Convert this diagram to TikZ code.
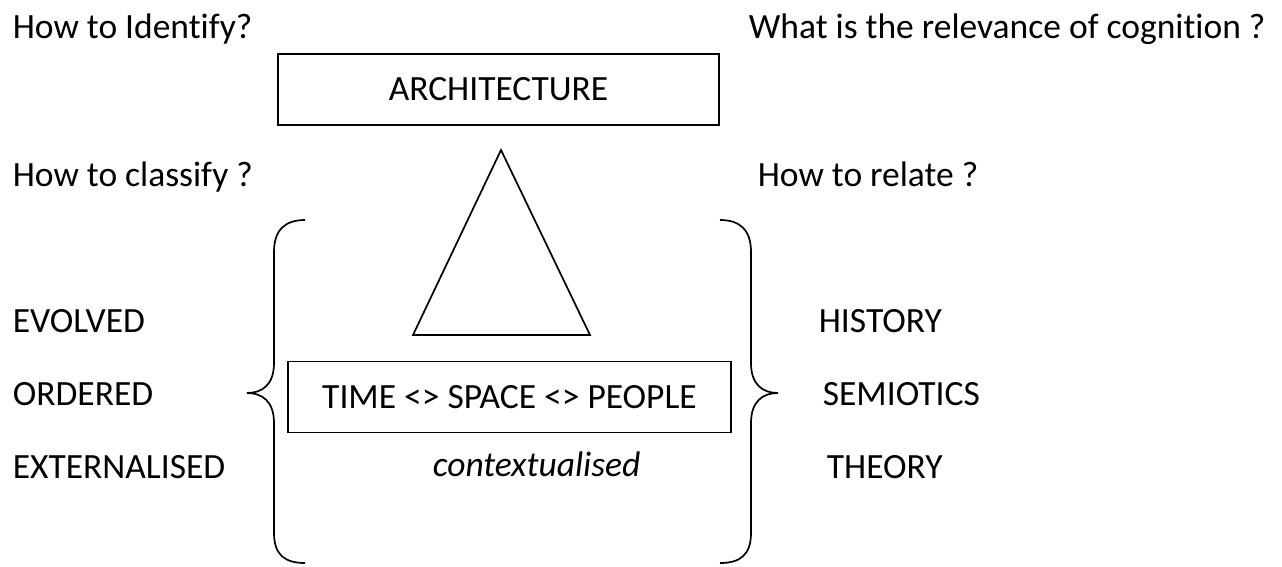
\documentclass[tikz,border=0pt]{standalone}
\usepackage{fontspec}
\setmainfont[Ligatures=NoCommon]{Carlito}
\begin{document}
\begin{tikzpicture}[x=1pt,y=-1pt,line width=1.7pt,
	box/.style={draw,minimum width=#1,minimum height=71pt,inner sep=0pt},
	lbl/.style={anchor=base west,inner sep=0pt},
	font=\fontsize{35.5}{42}\selectfont]
	\useasboundingbox (0,0) rectangle (1282,567);
	% questions round the top
	\node[lbl] (identify) at (12,39) {How to Identify?};
	\node[lbl] (cognition) at (748,39) {What is the relevance of cognition ?};
	\node[lbl] (classify) at (12,186) {How to classify ?};
	\node[lbl] (relate) at (757,186) {How to relate ?};
	\node[box=441pt] (arch) at (498.5,89.5) {ARCHITECTURE};
	\draw (501,150)--(590,335)--(413,335)--cycle;
	% left column
	\node[lbl] (evolved) at (12,332) {EVOLVED};
	\node[lbl] (ordered) at (12,405) {ORDERED};
	\node[lbl] (external) at (12,478) {EXTERNALISED};
	% right column
	\node[lbl] (history) at (818,332) {HISTORY};
	\node[lbl] (semiotics) at (822,405) {SEMIOTICS};
	\node[lbl] (theory) at (826,478) {THEORY};
	\node[box=443pt] (tsp) at (509.5,397) {TIME <> SPACE <> PEOPLE};
	\node[lbl] (context) at (432,476) {\itshape contextualised};
	% braces
	\draw (305,220) .. controls (285,220) and (274,230) .. (274,252) -- (274,363)
		.. controls (274,385) and (262,393) .. (247,393)
		.. controls (262,393) and (274,401) .. (274,423) -- (274,533)
		.. controls (274,555) and (285,563) .. (305,563);
	\draw (720,220) .. controls (740,220) and (751,230) .. (751,252) -- (751,363)
		.. controls (751,385) and (763,393) .. (778,393)
		.. controls (763,393) and (751,401) .. (751,423) -- (751,533)
		.. controls (751,555) and (740,563) .. (720,563);
\end{tikzpicture}
\end{document}
